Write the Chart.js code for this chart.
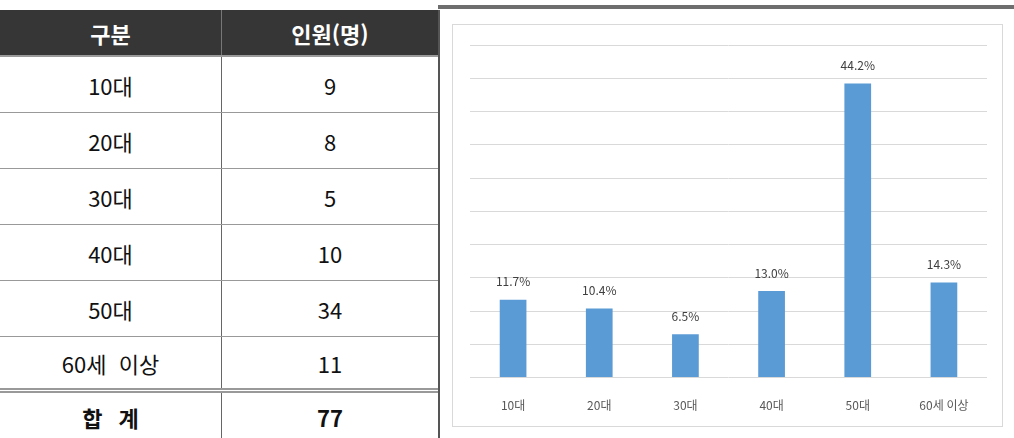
<!DOCTYPE html>
<html lang="ko">
<head>
<meta charset="utf-8">
<title>연령별 인원</title>
<script src="https://cdn.jsdelivr.net/npm/chart.js"></script>
<style>
  html, body { margin:0; padding:0; background:#fff; }
  body { width:1014px; height:438px; overflow:hidden; position:relative; font-family:"Noto Sans CJK KR", "Noto Sans", sans-serif; }
  .topline { position:absolute; left:438px; top:5px; width:576px; height:4px; background:#6e6e6e; }
  .tbl { position:absolute; left:0; top:10px; width:438px; border-right:2px solid #555; }
  .row { display:flex; height:56px; border-bottom:1px solid #999; box-sizing:border-box; }
  .row div { display:flex; align-items:center; justify-content:center; font-size:22px; color:#111; box-sizing:border-box; }
  .row .c1 { width:222px; border-right:1px solid #666; }
  .row .c2 { flex:1; }
  .row.head { height:47px; background:#363636; border-bottom:2px solid #9a9a9a; }
  .row.head div { color:#fff; font-weight:bold; border-right-color:#777; }
  .row.last { border-bottom:5px double #999; height:56px; }
  .row.total { border-bottom:none; height:48px; }
  .row.total div { font-weight:bold; word-spacing:10px; }
  .panel { position:absolute; left:452px; top:24px; width:551px; height:403px; border:1px solid #d9d9d9; box-sizing:border-box; }
</style>
</head>
<body>
<div class="topline"></div>
<div class="tbl" id="tbl"></div>
<div class="panel"><canvas id="ageChart" width="549" height="401"></canvas></div>

<script>
// 연령대별 응답자 수와 비율
const categories = ['10대', '20대', '30대', '40대', '50대', '60세 이상'];
const counts = [9, 8, 5, 10, 34, 11];
const totalCount = 77;
const percents = [11.7, 10.4, 6.5, 13.0, 44.2, 14.3];
const yTicks = [0, 5, 10, 15, 20, 25, 30, 35, 40, 45, 50];

// table
const tbl = document.getElementById('tbl');
let html = '<div class="row head"><div class="c1">구분</div><div class="c2">인원(명)</div></div>';
categories.forEach((c, i) => {
  const cls = i === categories.length - 1 ? 'row last' : 'row';
  html += `<div class="${cls}"><div class="c1" style="word-spacing:6px">${c}</div><div class="c2">${counts[i]}</div></div>`;
});
html += `<div class="row total"><div class="c1">합 계</div><div class="c2">${totalCount}</div></div>`;
tbl.innerHTML = html;

// percent labels above bars
const barLabels = {
  id: 'barLabels',
  afterDatasetsDraw(chart) {
    const ctx = chart.ctx;
    const meta = chart.getDatasetMeta(0);
    ctx.save();
    ctx.font = '12px "Noto Sans CJK KR", sans-serif';
    ctx.fillStyle = '#404040';
    ctx.textAlign = 'center';
    ctx.textBaseline = 'middle';
    meta.data.forEach((bar, i) => {
      ctx.fillText(percents[i].toFixed(1) + '%', bar.x, bar.y - 18);
    });
    ctx.restore();
  }
};

new Chart(document.getElementById('ageChart'), {
  type: 'bar',
  data: {
    labels: categories,
    datasets: [{ data: percents, backgroundColor: '#5b9bd5', barPercentage: 0.31, categoryPercentage: 1 }]
  },
  options: {
    responsive: false,
    animation: false,
    layout: { padding: { left: 17, right: 15, top: 20, bottom: 0 } },
    plugins: { legend: { display: false }, tooltip: { enabled: false } },
    scales: {
      x: {
        grid: { display: false },
        border: { display: false },
        ticks: { color: '#595959', font: { size: 12, family: '"Noto Sans CJK KR", sans-serif' }, padding: 13 }
      },
      y: {
        min: yTicks[0],
        max: yTicks[yTicks.length - 1],
        afterBuildTicks: (axis) => { axis.ticks = yTicks.map((v) => ({ value: v })); },
        ticks: { display: false },
        grid: { color: '#d9d9d9', lineWidth: 1, drawTicks: false },
        border: { display: false }
      }
    }
  },
  plugins: [barLabels]
});
</script>
</body>
</html>
